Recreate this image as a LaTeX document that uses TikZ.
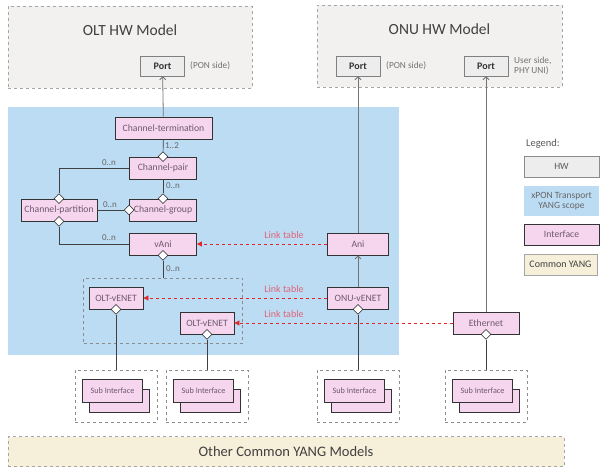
\documentclass[tikz,border=0pt]{standalone}
\usepackage{fontspec}
\setmainfont{Carlito}
\usepackage{tikz}
\usetikzlibrary{positioning,shapes.geometric,arrows.meta,shadows}

\definecolor{ifpink}{HTML}{F6D5EF}
\definecolor{iftext}{HTML}{6E5A6C}
\definecolor{scopeblue}{HTML}{BCDCF3}
\definecolor{hwgray}{HTML}{F2F1F0}
\definecolor{portgray}{HTML}{EDEDED}
\definecolor{cream}{HTML}{F6EFDA}
\definecolor{lnkred}{HTML}{E0262B}
\definecolor{lnklabel}{HTML}{E06478}

\begin{document}
\begin{tikzpicture}[x=1pt,y=-1pt,
    iface/.style={rectangle,draw=black!80,line width=0.8pt,fill=ifpink,text=iftext,
                  font=\fontsize{9.7}{11}\selectfont,minimum height=22,inner sep=1pt,
                  drop shadow={shadow xshift=0.8pt,shadow yshift=-0.8pt,opacity=0.3}},
    hwbox/.style={rectangle,draw=black!35,dashed,fill=hwgray},
    hwport/.style={rectangle,draw=black!50,fill=portgray,minimum width=44,minimum height=20,
                   font=\fontsize{10}{11}\selectfont\bfseries,text=black!80},
    grpbox/.style={rectangle,draw=black!45,dashed},
    agg/.style={diamond,draw=black!85,fill=white,line width=0.6pt,inner sep=0pt,minimum size=10},
    conn/.style={draw=black!75,line width=0.7pt},
    up/.style={draw=black!55,line width=0.8pt,-{Straight Barb[length=3pt,width=6pt]}},
    lnk/.style={draw=lnkred,dashed,line width=0.7pt,-{Triangle[length=5pt,width=5pt]}},
    lnklbl/.style={text=lnklabel,font=\fontsize{10}{11}\selectfont},
    mult/.style={text=black!60,font=\fontsize{9}{10}\selectfont,inner sep=0pt},
    note/.style={text=black!55,font=\fontsize{9.3}{10}\selectfont,inner sep=0pt},
    title/.style={text=black!75,font=\fontsize{15.5}{17}\selectfont}
  ]
  \useasboundingbox (0,0) rectangle (603,476);

  % HW models
  \node[hwbox,minimum width=244,minimum height=82] (olthw) at (130,47) {};
  \node[title] (olttitle) at (130,30) {OLT HW Model};
  \node[hwport] (oltport) at (162.5,66) {Port};
  \node[note,anchor=west] (oltpon) at (190,66) {(PON side)};

  \node[hwbox,minimum width=245,minimum height=82] (onuhw) at (439.5,46) {};
  \node[title] (onutitle) at (439.5,29) {ONU HW Model};
  \node[hwport] (onuport1) at (358,66) {Port};
  \node[note,anchor=west] (onupon) at (386,66) {(PON side)};
  \node[hwport] (onuport2) at (486,66) {Port};
  \node[note,anchor=west,align=left] (onuuni) at (514,66) {User side,\\PHY UNI)};

  % xPON transport scope
  \fill[scopeblue] (8,107) rectangle (399,355);

  \node[iface,minimum width=97] (cterm) at (163.5,128) {Channel-termination};
  \node[iface,minimum width=67] (cpair) at (163,168) {Channel-pair};
  \node[iface,minimum width=67] (cgroup) at (163,210) {Channel-group};
  \node[iface,minimum width=76] (cpart) at (59,210) {Channel-partition};
  \node[iface,minimum width=67] (vani) at (163,244) {vAni};
  \node[iface,minimum width=61] (ani) at (358,244) {Ani};
  \node[grpbox,minimum width=159,minimum height=65] (vgrp) at (163,310.5) {};
  \node[iface,minimum width=54] (oltv1) at (116,298) {OLT-vENET};
  \node[iface,minimum width=54] (oltv2) at (207,323) {OLT-vENET};
  \node[iface,minimum width=61] (onuv) at (358,298) {ONU-vENET};
  \node[iface,minimum width=66] (eth) at (486,323) {Ethernet};

  \node[agg] (dpair) at (cpair.north) {};
  \node[agg] (dgroupn) at (cgroup.north) {};
  \node[agg] (dgroupw) at (cgroup.west) {};
  \node[agg] (dpartn) at (cpart.north) {};
  \node[agg] (dparts) at (cpart.south) {};
  \node[agg] (dvani) at (vani.south) {};
  \node[agg] (ds1) at (oltv1.south) {};
  \node[agg] (ds2) at (oltv2.south) {};
  \node[agg] (ds3) at (onuv.south) {};
  \node[agg] (ds4) at (eth.south) {};

  \draw[conn] (cterm) -- (dpair);
  \draw[conn] (cpair.west) -| (dpartn);
  \draw[conn] (cpair) -- (dgroupn);
  \draw[conn] (cpart) -- (dgroupw);
  \draw[conn] (dparts) |- (vani.west);
  \draw[conn] (dvani) -- (vgrp);

  \node[mult] (m12) at (172,146) {1..2};
  \node[mult] (mpp) at (109,163) {0..n};
  \node[mult] (mpg) at (173,186) {0..n};
  \node[mult] (mgp) at (110,205) {0..n};
  \node[mult] (mpv) at (109,238) {0..n};
  \node[mult] (mvg) at (173,269) {0..n};

  \draw[up] (cterm) -- (oltport);
  \draw[up] (ani) -- (onuport1);
  \draw[up] (onuv) -- (ani);
  \draw[up] (eth) -- (onuport2);

  % link tables
  \draw[lnk] (ani) -- (vani);
  \draw[lnk] (onuv) -- (oltv1);
  \draw[lnk] (eth) -- (oltv2);
  \node[lnklbl] (lt1) at (284,235) {Link table};
  \node[lnklbl] (lt2) at (284,289) {Link table};
  \node[lnklbl] (lt3) at (284,314) {Link table};

  % sub interfaces
  \foreach \n/\x in {1/116,2/207,3/358,4/486}
    {
    \node[grpbox,minimum width=82,minimum height=52] (sg\n) at (\x,396) {};
    \node[iface,minimum width=60,minimum height=23] (sb\n) at (\x+3.5,400.5) {};
    \node[iface,minimum width=60,minimum height=23,font=\fontsize{8.2}{9}\selectfont] (si\n) at (\x-3.5,390.5) {Sub Interface};
    \draw[conn] (ds\n) -- (sg\n);
    }

  \node[rectangle,draw=black!35,dashed,fill=cream,minimum width=556,minimum height=30,
        text=black!75,font=\fontsize{14.5}{16}\selectfont] (ocym) at (286,451.5) {Other Common YANG Models};

  % legend
  \node[anchor=west,text=black!65,font=\fontsize{10.5}{12}\selectfont,inner sep=0pt] (lgd) at (526,144) {Legend:};
  \node[rectangle,draw=black!45,fill=portgray,minimum width=75,minimum height=21,
        text=black!65,font=\fontsize{9.5}{10}\selectfont] (lgdhw) at (561.5,166.5) {HW};
  \node[rectangle,fill=scopeblue,minimum width=75,minimum height=30,align=center,inner sep=1pt,
        text=black!60,font=\fontsize{9.5}{10.5}\selectfont] (lgdx) at (561.5,201) {xPON Transport\\YANG scope};
  \node[iface,minimum width=75,minimum height=21] (lgdif) at (561.5,234.5) {Interface};
  \node[rectangle,draw=black!35,fill=cream,minimum width=73,minimum height=21,inner sep=1pt,
        text=black!75,font=\fontsize{10}{11}\selectfont] (lgdcy) at (560.5,264.5) {Common YANG};
\end{tikzpicture}
\end{document}
